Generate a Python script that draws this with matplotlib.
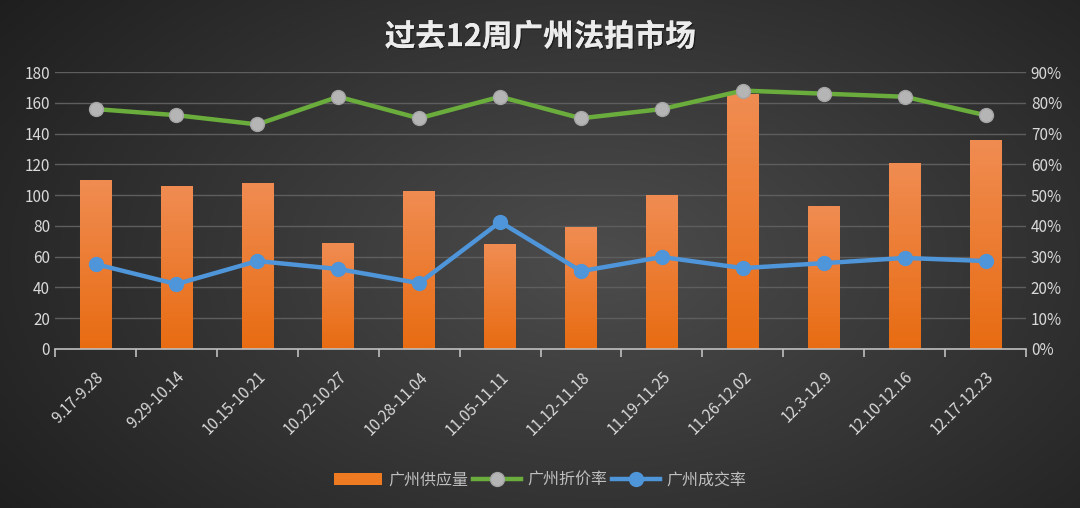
import matplotlib
matplotlib.use("Agg")
import matplotlib.pyplot as plt
import numpy as np
from matplotlib.lines import Line2D
from matplotlib.patches import Patch
from matplotlib.ticker import FuncFormatter, MultipleLocator
import matplotlib.patheffects as pe

plt.rcParams['font.family'] = ['Noto Sans CJK SC', 'DejaVu Sans']

# 数据
weeks = ['9.17-9.28', '9.29-10.14', '10.15-10.21', '10.22-10.27', '10.28-11.04',
         '11.05-11.11', '11.12-11.18', '11.19-11.25', '11.26-12.02', '12.3-12.9',
         '12.10-12.16', '12.17-12.23']
supply = [110, 106, 108, 69, 103, 68, 79, 100, 166, 93, 121, 136]
discount = [78, 76, 73, 82, 75, 82, 75, 78, 84, 83, 82, 76]
deal = [27.6, 21.1, 28.6, 26.0, 21.4, 41.3, 25.3, 29.9, 26.3, 27.9, 29.6, 28.6]

txt = '#d9d9d9'
fig = plt.figure(figsize=(10.8, 5.08), dpi=100)

# фон: радиальный градиент
bg = fig.add_axes([0, 0, 1, 1])
yy, xx = np.mgrid[0:508, 0:1080]
r = np.sqrt(((xx - 600) / 700.0) ** 2 + ((yy - 260) / 420.0) ** 2)
shade = np.clip(0.30 - 0.17 * r, 0.10, 0.30)
bg.imshow(np.dstack([shade] * 3), aspect='auto', extent=[0, 1, 0, 1])
bg.set_axis_off()

ax = fig.add_axes([0.051, 0.313, 0.899, 0.545])
ax.patch.set_alpha(0)
x = np.arange(len(weeks))

bars = ax.bar(x, supply, width=0.39, color='#ee7b22', zorder=2)
grad = np.linspace(0, 1, 100).reshape(-1, 1)
cm = matplotlib.colors.LinearSegmentedColormap.from_list('o', ['#e86c12', '#f08c52'])
for b in bars:
    im = ax.imshow(grad, cmap=cm, origin='lower', aspect='auto',
                   extent=[b.get_x(), b.get_x() + b.get_width(), 0, b.get_height()], zorder=2)
    im.set_clip_path(b)

ax.set_xlim(-0.5, len(weeks) - 0.5)
ax.set_ylim(0, 180)
ax.yaxis.set_major_locator(MultipleLocator(20))
ax.grid(axis='y', color='#5e5e5e', linewidth=1)
ax.set_axisbelow(True)
for s in ['top', 'left', 'right']:
    ax.spines[s].set_visible(False)
ax.spines['bottom'].set_color('#bfbfbf')
ax.spines['bottom'].set_linewidth(1.2)
ax.tick_params(axis='y', length=0, colors=txt, labelsize=11)
ax.set_xticks(np.arange(-0.5, len(weeks), 1))
ax.set_xticklabels([])
ax.tick_params(axis='x', which='major', length=6, color='#bfbfbf', width=1.2)
ax.set_xticks(x, minor=True)
ax.set_xticklabels(weeks, minor=True, rotation=45, ha='right', rotation_mode='anchor',
                   color=txt, fontsize=11)
ax.tick_params(axis='x', which='minor', length=0, pad=14)

ax2 = ax.twinx()
ax2.set_ylim(0, 90)
ax2.yaxis.set_major_locator(MultipleLocator(10))
ax2.yaxis.set_major_formatter(FuncFormatter(lambda v, p: '%d%%' % v))
ax2.tick_params(axis='y', length=0, colors=txt, labelsize=11)
for s in ax2.spines.values():
    s.set_visible(False)

ax2.plot(x, discount, color='#6aad3c', linewidth=3.2, marker='o', markersize=10,
         markerfacecolor='#b5b5b5', markeredgecolor='#a5a5a5', zorder=4)
ax2.plot(x, deal, color='#4f95d9', linewidth=3.2, marker='o', markersize=10,
         markerfacecolor='#4f95d9', markeredgecolor='#4f95d9', zorder=4)

fig.text(0.5, 0.927, '过去12周广州法拍市场', ha='center', va='center',
         color='#ececec', fontsize=22, fontweight='bold',
         path_effects=[pe.withSimplePatchShadow(offset=(1, -1), shadow_rgbFace='#111111', alpha=0.6),
                       pe.Normal()])

handles = [Patch(facecolor='#ee7b22'),
           Line2D([], [], color='#6aad3c', linewidth=3.2, marker='o', markersize=10,
                  markerfacecolor='#b5b5b5', markeredgecolor='#a5a5a5'),
           Line2D([], [], color='#4f95d9', linewidth=3.2, marker='o', markersize=10,
                  markerfacecolor='#4f95d9')]
fig.legend(handles, ['广州供应量', '广州折价率', '广州成交率'], loc='center',
           bbox_to_anchor=(0.5, 0.055), ncol=3, frameon=False, fontsize=11.5,
           labelcolor='#bfbfbf', handlelength=3.0, columnspacing=0.3, handletextpad=0.4)

fig.savefig('out.png', dpi=100)
